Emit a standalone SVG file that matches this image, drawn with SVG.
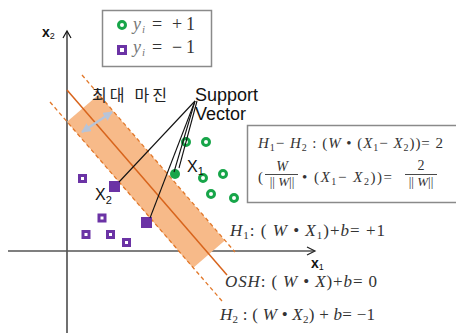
<svg xmlns="http://www.w3.org/2000/svg" width="456" height="333" viewBox="0 0 456 333">
<style>
.sans{font-family:"Liberation Sans",Arial,sans-serif;fill:#111}
.math{font-family:"Liberation Serif","Times New Roman",serif;fill:#333}
.it{font-style:italic}
.kr{font-family:"Noto Sans CJK KR","Noto Sans",sans-serif;fill:#222}
.ring{fill:none;stroke:#17a549;stroke-width:3}
.dot{fill:#17a549}
.sq{fill:none;stroke:#6b33a5;stroke-width:3}
.sqf{fill:#6b33a5}
.dash{fill:none;stroke:#e2782a;stroke-width:1.3;stroke-dasharray:4 3}
.solid{fill:none;stroke:#d8641c;stroke-width:1.5}
.lead{fill:none;stroke:#111;stroke-width:1.1}
.box{fill:#fff;stroke:#8a8a8a;stroke-width:1.5}
</style>
<defs>
<marker id="ah" viewBox="0 0 10 10" refX="9" refY="5" markerWidth="4" markerHeight="4" orient="auto-start-reverse">
<path d="M0,0 L10,5 L0,10 z" fill="#b7c4d8"/>
</marker>
</defs>

<g id="axes">
<line x1="67" y1="333" x2="67" y2="32" stroke="#111" stroke-width="1.2"/>
<polyline points="63,38 67,31 71,38" fill="none" stroke="#111" stroke-width="1.2"/>
<line x1="8" y1="251" x2="314" y2="251" stroke="#555" stroke-width="1.5"/>
<polyline points="307,247 315,251 307,255" fill="none" stroke="#222" stroke-width="1.2"/>
<text class="sans" x="42" y="37" font-size="14" font-weight="bold">x<tspan font-size="9" font-weight="normal" dy="2">2</tspan></text>
<text class="sans" x="311" y="268" font-size="14" font-weight="bold">x<tspan font-size="9" font-weight="normal" dy="2">1</tspan></text>
</g>

<g id="margin-band">
<polygon points="67,121.7 98.8,94.4 224.8,240.5 193,268" fill="#f7ba89"/>
<line class="dash" x1="82" y1="75" x2="235" y2="252"/>
<line class="solid" x1="67" y1="90" x2="227" y2="275"/>
<line class="dash" x1="50" y1="102" x2="222" y2="301"/>
<line x1="82" y1="132" x2="112" y2="112" stroke="#b7c4d8" stroke-width="2.4" marker-start="url(#ah)" marker-end="url(#ah)"/>
<text class="kr" x="92" y="101" font-size="16" textLength="75" lengthAdjust="spacing">최대 마진</text>
</g>

<g id="legend">
<rect class="box" x="102.5" y="10.5" width="109" height="56"/>
<circle class="ring" cx="122" cy="25" r="3.5"/>
<rect class="sq" x="118.5" y="46.5" width="7" height="7"/>
<text class="math" font-size="18"><tspan x="133" y="30" class="it" fill="#777">y</tspan><tspan x="142" y="33" class="it" font-size="11" fill="#777">i</tspan><tspan x="152" y="30">=</tspan><tspan x="172" y="30">+</tspan><tspan x="186" y="30">1</tspan></text>
<text class="math" font-size="18"><tspan x="133" y="53" class="it" fill="#777">y</tspan><tspan x="142" y="56" class="it" font-size="11" fill="#777">i</tspan><tspan x="152" y="53">=</tspan><tspan x="172" y="53">−</tspan><tspan x="186" y="53">1</tspan></text>
</g>

<g id="positive-class">
<circle class="ring" cx="186" cy="142" r="3.5"/>
<circle class="ring" cx="206" cy="142" r="3.5"/>
<circle class="ring" cx="203" cy="178" r="3.5"/>
<circle class="ring" cx="223" cy="174" r="3.5"/>
<circle class="ring" cx="211" cy="194" r="3.5"/>
<circle class="ring" cx="234" cy="198" r="3.5"/>
</g>

<g id="negative-class">
<rect class="sq" x="79.5" y="175.5" width="6" height="6"/>
<rect class="sq" x="99" y="215" width="6" height="6"/>
<rect class="sq" x="83" y="231.5" width="6" height="6"/>
<rect class="sq" x="107.5" y="231.5" width="6" height="6"/>
<rect class="sq" x="123.5" y="239.5" width="6" height="6"/>
</g>

<g id="support-vectors">
<circle class="dot" cx="175" cy="174" r="5"/>
<rect class="sqf" x="109" y="181" width="11" height="11"/>
<rect class="sqf" x="141" y="217" width="11" height="11"/>
<text class="sans" x="187" y="172" font-size="16">X<tspan font-size="11" dy="3">1</tspan></text>
<text class="sans" x="95" y="200" font-size="16">X<tspan font-size="11" dy="4">2</tspan></text>
</g>

<g id="connectors">
<line class="lead" x1="195" y1="101" x2="119" y2="182"/>
<line class="lead" x1="195" y1="101" x2="150" y2="218"/>
<line class="lead" x1="195" y1="101" x2="174" y2="172"/>
<line class="lead" x1="197" y1="101" x2="179" y2="168"/>
</g>

<g id="support-label">
<text class="sans" x="195" y="101" font-size="18">Support</text>
<text class="sans" x="195" y="120" font-size="18">Vector</text>
</g>

<g id="formula-box">
<rect class="box" x="247.5" y="125.5" width="214" height="77"/>
<text class="math" x="258" y="148" font-size="15" textLength="185" lengthAdjust="spacing"><tspan class="it">H</tspan><tspan font-size="10" dy="3">1</tspan><tspan dy="-3">− </tspan><tspan class="it">H</tspan><tspan font-size="10" dy="3">2</tspan><tspan dy="-3"> : (</tspan><tspan class="it">W</tspan> • (<tspan class="it">X</tspan><tspan font-size="10" dy="3">1</tspan><tspan dy="-3">− </tspan><tspan class="it">X</tspan><tspan font-size="10" dy="3">2</tspan><tspan dy="-3">))= 2</tspan></text>
<text class="math" x="258" y="182" font-size="15">(</text>
<text class="math it" x="282" y="171" font-size="14" text-anchor="middle">W</text>
<line x1="265" y1="174.5" x2="298" y2="174.5" stroke="#333" stroke-width="0.9"/>
<text class="math" x="282" y="186" font-size="13" text-anchor="middle">|| <tspan class="it">W</tspan>||</text>
<text class="math" x="302" y="182" font-size="15" textLength="90" lengthAdjust="spacing">• (<tspan class="it">X</tspan><tspan font-size="10" dy="3">1</tspan><tspan dy="-3">− </tspan><tspan class="it">X</tspan><tspan font-size="10" dy="3">2</tspan><tspan dy="-3">))=</tspan></text>
<text class="math" x="421" y="170" font-size="14" text-anchor="middle">2</text>
<line x1="405" y1="174.5" x2="437" y2="174.5" stroke="#333" stroke-width="0.9"/>
<text class="math" x="421" y="186" font-size="13" text-anchor="middle">|| <tspan class="it">W</tspan>||</text>
</g>

<g id="hyperplane-labels">
<text class="math" x="230" y="236" font-size="17" textLength="155" lengthAdjust="spacing"><tspan class="it">H</tspan><tspan font-size="11" dy="3">1</tspan><tspan dy="-3">: ( </tspan><tspan class="it">W</tspan> •  <tspan class="it">X</tspan><tspan font-size="11" dy="3">1</tspan><tspan dy="-3">)+</tspan><tspan class="it">b</tspan>= +1</text>
<text class="math" x="225" y="287" font-size="17" textLength="152" lengthAdjust="spacing"><tspan class="it">OSH</tspan>: ( <tspan class="it">W</tspan> •  <tspan class="it">X</tspan>)+<tspan class="it">b</tspan>= 0</text>
<text class="math" x="220" y="320" font-size="17" textLength="155" lengthAdjust="spacing"><tspan class="it">H</tspan><tspan font-size="11" dy="3">2</tspan><tspan dy="-3"> : ( </tspan><tspan class="it">W</tspan> •  <tspan class="it">X</tspan><tspan font-size="11" dy="3">2</tspan><tspan dy="-3">) + </tspan><tspan class="it">b</tspan>= −1</text>
</g>
</svg>
